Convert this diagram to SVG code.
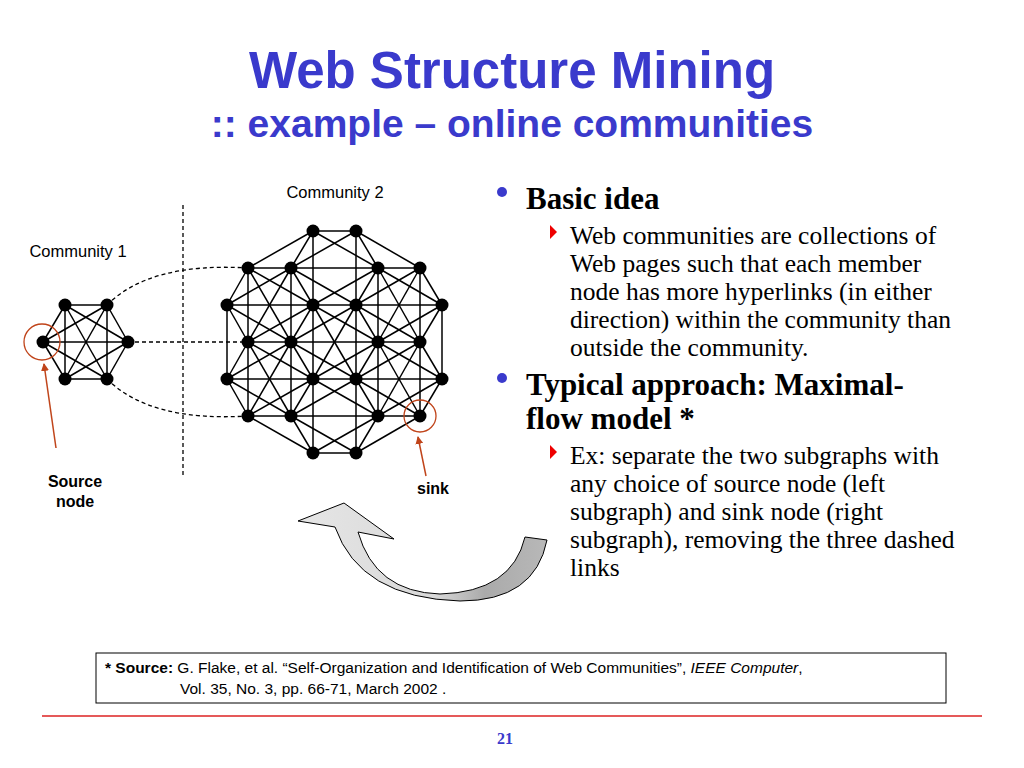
<svg xmlns="http://www.w3.org/2000/svg" width="1024" height="768" viewBox="0 0 1024 768">
<style>
.t{font-family:"Liberation Sans",Arial,sans-serif}
.s{font-family:"Liberation Serif","Times New Roman",serif}
.e line{stroke:#000;stroke-width:1.5}
.n circle{fill:#000}
.d{stroke:#000;stroke-width:1.3;stroke-dasharray:4,3;fill:none}
</style>
<defs>
<linearGradient id="g" x1="0" y1="0" x2="1" y2="0">
<stop offset="0" stop-color="#e6e6e6"/><stop offset="0.55" stop-color="#d8d8d8"/><stop offset="0.75" stop-color="#aaa"/><stop offset="1" stop-color="#b8b8b8"/>
</linearGradient>
<marker id="ah" markerWidth="8" markerHeight="8" refX="7" refY="4" orient="auto" markerUnits="userSpaceOnUse"><path d="M0,0 L8,4 L0,8 Z" fill="#c0441a"/></marker>
</defs>
<rect width="1024" height="768" fill="#fff"/>
<text class="t" x="512" y="88" text-anchor="middle" font-size="51" font-weight="bold" fill="#3a3acc">Web Structure Mining</text>
<text class="t" x="512" y="137" text-anchor="middle" font-size="39" font-weight="bold" fill="#3a3acc">:: example – online communities</text>

<text class="t" x="335" y="198" text-anchor="middle" font-size="16.5">Community 2</text>
<text class="t" x="78" y="257" text-anchor="middle" font-size="16.5">Community 1</text>
<text class="t" x="75" y="487" text-anchor="middle" font-size="16" font-weight="bold">Source</text>
<text class="t" x="75" y="507" text-anchor="middle" font-size="16" font-weight="bold">node</text>
<text class="t" x="433" y="494" text-anchor="middle" font-size="16" font-weight="bold">sink</text>

<g id="connectors">
<line x1="183" y1="205" x2="183" y2="475" class="d"/>
<path class="d" d="M107,305 Q150,262 248,268"/>
<line class="d" x1="128" y1="342" x2="248" y2="342"/>
<path class="d" d="M107,379 Q150,422 248,416"/>
<g class="e">
<line x1="43" y1="342" x2="65" y2="305"/><line x1="43" y1="342" x2="107" y2="305"/><line x1="43" y1="342" x2="128" y2="342"/><line x1="43" y1="342" x2="65" y2="379"/><line x1="43" y1="342" x2="107" y2="379"/>
<line x1="65" y1="305" x2="107" y2="305"/><line x1="65" y1="305" x2="128" y2="342"/><line x1="65" y1="305" x2="65" y2="379"/><line x1="65" y1="305" x2="107" y2="379"/>
<line x1="107" y1="305" x2="128" y2="342"/><line x1="107" y1="305" x2="65" y2="379"/><line x1="107" y1="305" x2="107" y2="379"/>
<line x1="128" y1="342" x2="65" y2="379"/><line x1="128" y1="342" x2="107" y2="379"/><line x1="65" y1="379" x2="107" y2="379"/>
<line x1="313" y1="231" x2="356" y2="231"/><line x1="248" y1="268" x2="420" y2="268"/><line x1="227" y1="305" x2="442" y2="305"/><line x1="248" y1="342" x2="420" y2="342"/><line x1="227" y1="379" x2="442" y2="379"/><line x1="248" y1="416" x2="420" y2="416"/><line x1="313" y1="453" x2="356" y2="453"/>
<line x1="248" y1="268" x2="248" y2="416"/><line x1="291" y1="268" x2="291" y2="416"/><line x1="313" y1="231" x2="313" y2="453"/><line x1="356" y1="231" x2="356" y2="453"/><line x1="378" y1="268" x2="378" y2="416"/><line x1="420" y1="268" x2="420" y2="416"/><line x1="227" y1="305" x2="227" y2="379"/><line x1="442" y1="305" x2="442" y2="379"/>
<line x1="313" y1="231" x2="248" y2="268"/><line x1="313" y1="231" x2="291" y2="268"/><line x1="313" y1="231" x2="378" y2="268"/><line x1="356" y1="231" x2="291" y2="268"/><line x1="356" y1="231" x2="378" y2="268"/><line x1="356" y1="231" x2="420" y2="268"/>
<line x1="248" y1="268" x2="227" y2="305"/><line x1="248" y1="268" x2="313" y2="305"/><line x1="291" y1="268" x2="227" y2="305"/><line x1="291" y1="268" x2="313" y2="305"/><line x1="291" y1="268" x2="356" y2="305"/><line x1="378" y1="268" x2="313" y2="305"/><line x1="378" y1="268" x2="356" y2="305"/><line x1="378" y1="268" x2="442" y2="305"/><line x1="420" y1="268" x2="356" y2="305"/><line x1="420" y1="268" x2="442" y2="305"/>
<line x1="227" y1="305" x2="248" y2="342"/><line x1="227" y1="305" x2="291" y2="342"/><line x1="313" y1="305" x2="248" y2="342"/><line x1="313" y1="305" x2="291" y2="342"/><line x1="313" y1="305" x2="378" y2="342"/><line x1="356" y1="305" x2="291" y2="342"/><line x1="356" y1="305" x2="378" y2="342"/><line x1="356" y1="305" x2="420" y2="342"/><line x1="442" y1="305" x2="378" y2="342"/><line x1="442" y1="305" x2="420" y2="342"/>
<line x1="248" y1="342" x2="227" y2="379"/><line x1="248" y1="342" x2="313" y2="379"/><line x1="291" y1="342" x2="227" y2="379"/><line x1="291" y1="342" x2="313" y2="379"/><line x1="291" y1="342" x2="356" y2="379"/><line x1="378" y1="342" x2="313" y2="379"/><line x1="378" y1="342" x2="356" y2="379"/><line x1="378" y1="342" x2="442" y2="379"/><line x1="420" y1="342" x2="356" y2="379"/><line x1="420" y1="342" x2="442" y2="379"/>
<line x1="227" y1="379" x2="248" y2="416"/><line x1="227" y1="379" x2="291" y2="416"/><line x1="313" y1="379" x2="248" y2="416"/><line x1="313" y1="379" x2="291" y2="416"/><line x1="313" y1="379" x2="378" y2="416"/><line x1="356" y1="379" x2="291" y2="416"/><line x1="356" y1="379" x2="378" y2="416"/><line x1="356" y1="379" x2="420" y2="416"/><line x1="442" y1="379" x2="378" y2="416"/><line x1="442" y1="379" x2="420" y2="416"/>
<line x1="248" y1="416" x2="313" y2="453"/><line x1="291" y1="416" x2="313" y2="453"/><line x1="291" y1="416" x2="356" y2="453"/><line x1="378" y1="416" x2="313" y2="453"/><line x1="378" y1="416" x2="356" y2="453"/><line x1="420" y1="416" x2="356" y2="453"/>
<line x1="248" y1="268" x2="291" y2="342"/><line x1="291" y1="268" x2="248" y2="342"/><line x1="378" y1="268" x2="420" y2="342"/><line x1="420" y1="268" x2="378" y2="342"/>
<line x1="248" y1="342" x2="291" y2="416"/><line x1="291" y1="342" x2="248" y2="416"/><line x1="378" y1="342" x2="420" y2="416"/><line x1="420" y1="342" x2="378" y2="416"/>
<line x1="313" y1="305" x2="356" y2="379"/><line x1="356" y1="305" x2="313" y2="379"/>
</g>
<line x1="56" y1="448" x2="44" y2="364" stroke="#c0441a" stroke-width="1.5" marker-end="url(#ah)"/>
<line x1="426" y1="476" x2="418" y2="437" stroke="#c0441a" stroke-width="1.5" marker-end="url(#ah)"/>
</g>

<g id="nodes" class="n">
<circle cx="43" cy="342" r="6.5"/><circle cx="65" cy="305" r="6.5"/><circle cx="107" cy="305" r="6.5"/><circle cx="128" cy="342" r="6.5"/><circle cx="65" cy="379" r="6.5"/><circle cx="107" cy="379" r="6.5"/>
<circle cx="313" cy="231" r="6.5"/><circle cx="356" cy="231" r="6.5"/>
<circle cx="248" cy="268" r="6.5"/><circle cx="291" cy="268" r="6.5"/><circle cx="378" cy="268" r="6.5"/><circle cx="420" cy="268" r="6.5"/>
<circle cx="227" cy="305" r="6.5"/><circle cx="313" cy="305" r="6.5"/><circle cx="356" cy="305" r="6.5"/><circle cx="442" cy="305" r="6.5"/>
<circle cx="248" cy="342" r="6.5"/><circle cx="291" cy="342" r="6.5"/><circle cx="378" cy="342" r="6.5"/><circle cx="420" cy="342" r="6.5"/>
<circle cx="227" cy="379" r="6.5"/><circle cx="313" cy="379" r="6.5"/><circle cx="356" cy="379" r="6.5"/><circle cx="442" cy="379" r="6.5"/>
<circle cx="248" cy="416" r="6.5"/><circle cx="291" cy="416" r="6.5"/><circle cx="378" cy="416" r="6.5"/><circle cx="420" cy="416" r="6.5"/>
<circle cx="313" cy="453" r="6.5"/><circle cx="356" cy="453" r="6.5"/>
</g>
<circle cx="42" cy="342" r="18" fill="none" stroke="#c0441a" stroke-width="1.3"/>
<circle cx="420" cy="416" r="16" fill="none" stroke="#c0441a" stroke-width="1.3"/>

<path d="M298,521 L344,503 L394,539 L358,532 Q375,592 440,594 Q512,592 525,537 L547,540 Q535,601 460,601 Q360,598 335,527 Z" fill="url(#g)" stroke="#000" stroke-width="1"/>

<circle cx="502" cy="192" r="5" fill="#3a3acc"/>
<text class="s" x="526" y="209" font-size="31" font-weight="bold">Basic idea</text>
<path d="M550,225 L557,232 L550,239 Z" fill="#e00"/>
<g class="s" font-size="25.5">
<text x="570" y="244">Web communities are collections of</text>
<text x="570" y="272">Web pages such that each member</text>
<text x="570" y="300">node has more hyperlinks (in either</text>
<text x="570" y="328">direction) within the community than</text>
<text x="570" y="356">outside the community.</text>
</g>
<circle cx="502" cy="378" r="5" fill="#3a3acc"/>
<text class="s" x="526" y="395" font-size="31" font-weight="bold">Typical approach: Maximal-</text>
<text class="s" x="526" y="429" font-size="31" font-weight="bold">flow model *</text>
<path d="M550,445 L557,452 L550,459 Z" fill="#e00"/>
<g class="s" font-size="25.5">
<text x="570" y="464">Ex: separate the two subgraphs with</text>
<text x="570" y="492">any choice of source node (left</text>
<text x="570" y="520">subgraph) and sink node (right</text>
<text x="570" y="548">subgraph), removing the three dashed</text>
<text x="570" y="576">links</text>
</g>

<rect x="96" y="653" width="850" height="50" fill="#fff" stroke="#000" stroke-width="1"/>
<text class="t" x="105" y="673" font-size="15.5"><tspan font-weight="bold">* Source:</tspan> G. Flake, et al. “Self-Organization and Identification of Web Communities”, <tspan font-style="italic">IEEE Computer</tspan>,</text>
<text class="t" x="180" y="694" font-size="15.5">Vol. 35, No. 3, pp. 66-71, March 2002 .</text>
<line x1="42" y1="716" x2="982" y2="716" stroke="#d22" stroke-width="1.3"/>
<text class="s" x="505" y="744" text-anchor="middle" font-size="16" font-weight="bold" fill="#3a3acc">21</text>
</svg>
